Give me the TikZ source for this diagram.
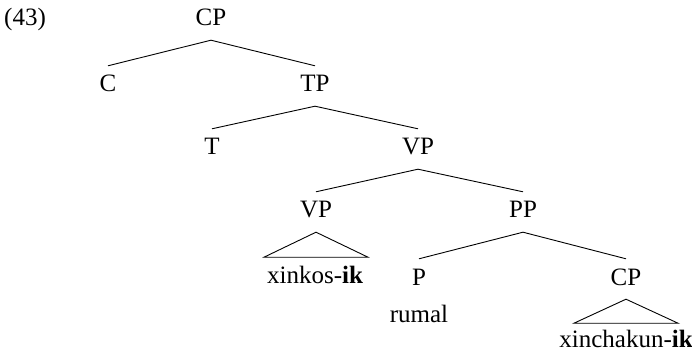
\documentclass[tikz,border=0pt]{standalone}
\usepackage{fontspec}
\setmainfont{Liberation Serif}
\begin{document}
\begin{tikzpicture}[x=1pt,y=-1pt,
  every node/.style={font=\fontsize{25}{29}\selectfont},
  cat/.style={anchor=base,inner xsep=2pt,inner ysep=14pt,text height=12pt,text depth=0pt},
  leaf/.style={anchor=base,inner sep=0pt},
  branch/.style={line width=0.9pt},
  tri/.style={line width=0.9pt,line join=miter}]
\useasboundingbox (0,0) rectangle (692,352);
\node[leaf,anchor=base west] (ex) at (4,26) {(43)};
\node[cat] (cp) at (211,26) {CP};
\node[cat] (c) at (108,92) {C};
\node[cat] (tp) at (315,92) {TP};
\node[cat] (t) at (212,155) {T};
\node[cat] (vp) at (418,155) {VP};
\node[cat] (vpb) at (316,218) {VP};
\node[cat] (pp) at (523,218) {PP};
\node[cat] (p) at (419,285) {P};
\node[cat] (cpb) at (626,285) {CP};
\node[leaf] (xk) at (315,283) {xinkos-\textbf{ik}};
\node[leaf] (ru) at (419,322) {rumal};
\node[leaf] (xc) at (626,347) {xinchakun-\textbf{ik}};
\draw[branch] (c.north) -- (cp.south) -- (tp.north);
\draw[branch] (t.north) -- (tp.south) -- (vp.north);
\draw[branch] (vpb.north) -- (vp.south) -- (pp.north);
\draw[branch] (p.north) -- (pp.south) -- (cpb.north);
\draw[tri] (vpb.south) -- ++(-52,25) -- ++(104,0) -- cycle;
\draw[tri] (cpb.south) -- ++(-52,24) -- ++(104,0) -- cycle;
\end{tikzpicture}
\end{document}
